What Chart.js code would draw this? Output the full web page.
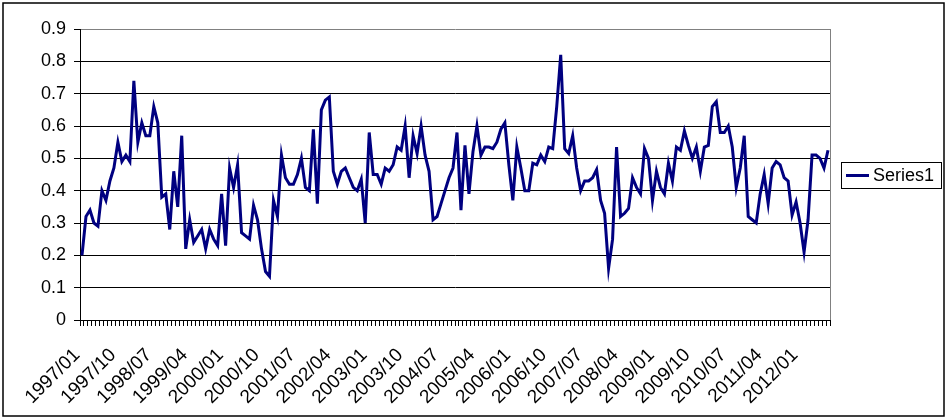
<!DOCTYPE html>
<html>
<head>
<meta charset="utf-8">
<script src="https://cdn.jsdelivr.net/npm/chart.js@4/dist/chart.umd.min.js"></script>
<style>
html,body{margin:0;padding:0;background:#fff;}
#wrap{width:950px;height:419px;position:relative;}
</style>
</head>
<body>
<div id="wrap"><canvas id="c" width="950" height="419"></canvas></div>
<script>
// Monthly categories 1997/01 .. 2012/08
const startYear = 1997;
const monthCount = 188;
const categories = [];
for (let k = 0; k < monthCount; k++) {
  const y = startYear + Math.floor(k / 12);
  const m = (k % 12) + 1;
  categories.push(y + '/' + (m < 10 ? '0' + m : m));
}
const seriesName = 'Series1';
const series1 = [
  0.20,0.32,0.34,0.30,0.29,0.40,0.37,0.43,0.47,0.55,
  0.49,0.51,0.49,0.74,0.55,0.61,0.57,0.57,0.66,0.61,
  0.38,0.39,0.28,0.46,0.35,0.57,0.22,0.31,0.24,0.26,
  0.28,0.22,0.28,0.25,0.23,0.39,0.23,0.47,0.41,0.48,
  0.27,0.26,0.25,0.355,0.31,0.22,0.15,0.135,0.37,0.32,
  0.51,0.44,0.42,0.42,0.45,0.50,0.41,0.40,0.59,0.36,
  0.65,0.68,0.69,0.46,0.42,0.46,0.47,0.44,0.41,0.40,
  0.435,0.30,0.58,0.45,0.45,0.42,0.47,0.46,0.48,0.535,
  0.525,0.60,0.44,0.57,0.515,0.60,0.51,0.46,0.31,0.32,
  0.36,0.40,0.44,0.47,0.58,0.34,0.54,0.39,0.52,0.60,
  0.51,0.535,0.535,0.53,0.55,0.59,0.61,0.48,0.37,0.535,
  0.47,0.40,0.40,0.485,0.48,0.51,0.49,0.535,0.53,0.66,
  0.82,0.53,0.515,0.57,0.47,0.40,0.43,0.43,0.44,0.465,
  0.37,0.33,0.16,0.25,0.535,0.32,0.33,0.345,0.44,0.41,
  0.39,0.53,0.50,0.37,0.46,0.41,0.39,0.485,0.43,0.535,
  0.525,0.585,0.54,0.50,0.535,0.46,0.535,0.54,0.66,0.675,
  0.58,0.58,0.60,0.535,0.41,0.47,0.57,0.32,0.31,0.30,
  0.39,0.45,0.36,0.47,0.49,0.48,0.44,0.43,0.325,0.365,
  0.30,0.21,0.31,0.51,0.51,0.50,0.47,0.525
];
const labelEvery = 9;
const yTicks = [0,0.1,0.2,0.3,0.4,0.5,0.6,0.7,0.8,0.9];

const FONT = "'Liberation Sans', Arial, sans-serif";
const LINE_COLOR = '#000080';

const framePlugin = {
  id: 'frame',
  beforeDraw(chart) {
    const ctx = chart.ctx;
    ctx.save();
    ctx.fillStyle = '#fff';
    ctx.fillRect(0, 0, chart.width, chart.height);
    ctx.restore();
  },
  afterDraw(chart) {
    const ctx = chart.ctx;
    const a = chart.chartArea;
    ctx.save();
    ctx.strokeStyle = '#808080';
    ctx.lineWidth = 1;
    ctx.beginPath();
    ctx.moveTo(Math.round(a.right) + 0.5, a.top);
    ctx.lineTo(Math.round(a.right) + 0.5, a.bottom);
    ctx.stroke();
    ctx.strokeStyle = '#000';
    ctx.lineWidth = 1.5;
    ctx.strokeRect(3, 3, 941, 413);
    ctx.lineWidth = 1;
    ctx.strokeRect(841.5, 162.5, 100, 26);
    ctx.strokeStyle = LINE_COLOR;
    ctx.lineWidth = 3;
    ctx.beginPath();
    ctx.moveTo(846, 175.5);
    ctx.lineTo(869, 175.5);
    ctx.stroke();
    ctx.fillStyle = '#000';
    ctx.font = '18px ' + FONT;
    ctx.textBaseline = 'middle';
    ctx.textAlign = 'left';
    ctx.fillText(seriesName, 873, 176);
    ctx.restore();
  }
};

new Chart(document.getElementById('c'), {
  type: 'line',
  data: {
    labels: categories,
    datasets: [{
      label: seriesName,
      data: series1,
      borderColor: LINE_COLOR,
      backgroundColor: LINE_COLOR,
      borderWidth: 3,
      pointRadius: 0,
      tension: 0,
      fill: false
    }]
  },
  options: {
    responsive: false,
    animation: false,
    devicePixelRatio: 1,
    layout: { padding: { left: 0, top: 29, right: 120, bottom: 0 } },
    plugins: { legend: { display: false }, tooltip: { enabled: false } },
    scales: {
      x: {
        type: 'category',
        offset: true,
        afterFit(scale) { scale.height = 99; },
        grid: {
          display: true,
          offset: true,
          drawOnChartArea: false,
          drawTicks: true,
          tickLength: 6,
          color: '#000',
          lineWidth: 1
        },
        border: { display: true, color: '#000', width: 1 },
        ticks: {
          autoSkip: false,
          maxRotation: 45,
          minRotation: 45,
          padding: 18,
          labelOffset: -5,
          color: '#000',
          font: { family: FONT, size: 19 },
          callback(v, i) { return i % labelEvery === 0 ? categories[i] : ''; }
        }
      },
      y: {
        min: 0,
        max: 0.9,
        afterFit(scale) { scale.width = 80; },
        afterBuildTicks(scale) { scale.ticks = yTicks.map(v => ({ value: v })); },
        grid: {
          color(ctx) { return ctx.tick && ctx.tick.value > 0.85 ? '#808080' : '#000'; },
          tickColor: '#000',
          tickLength: 6,
          lineWidth: 1
        },
        border: { display: true, color: '#000', width: 1 },
        ticks: {
          padding: 8,
          color: '#000',
          font: { family: FONT, size: 18 },
          callback(v) { return String(Number(v.toFixed(1))); }
        }
      }
    }
  },
  plugins: [framePlugin]
});
</script>
</body>
</html>
